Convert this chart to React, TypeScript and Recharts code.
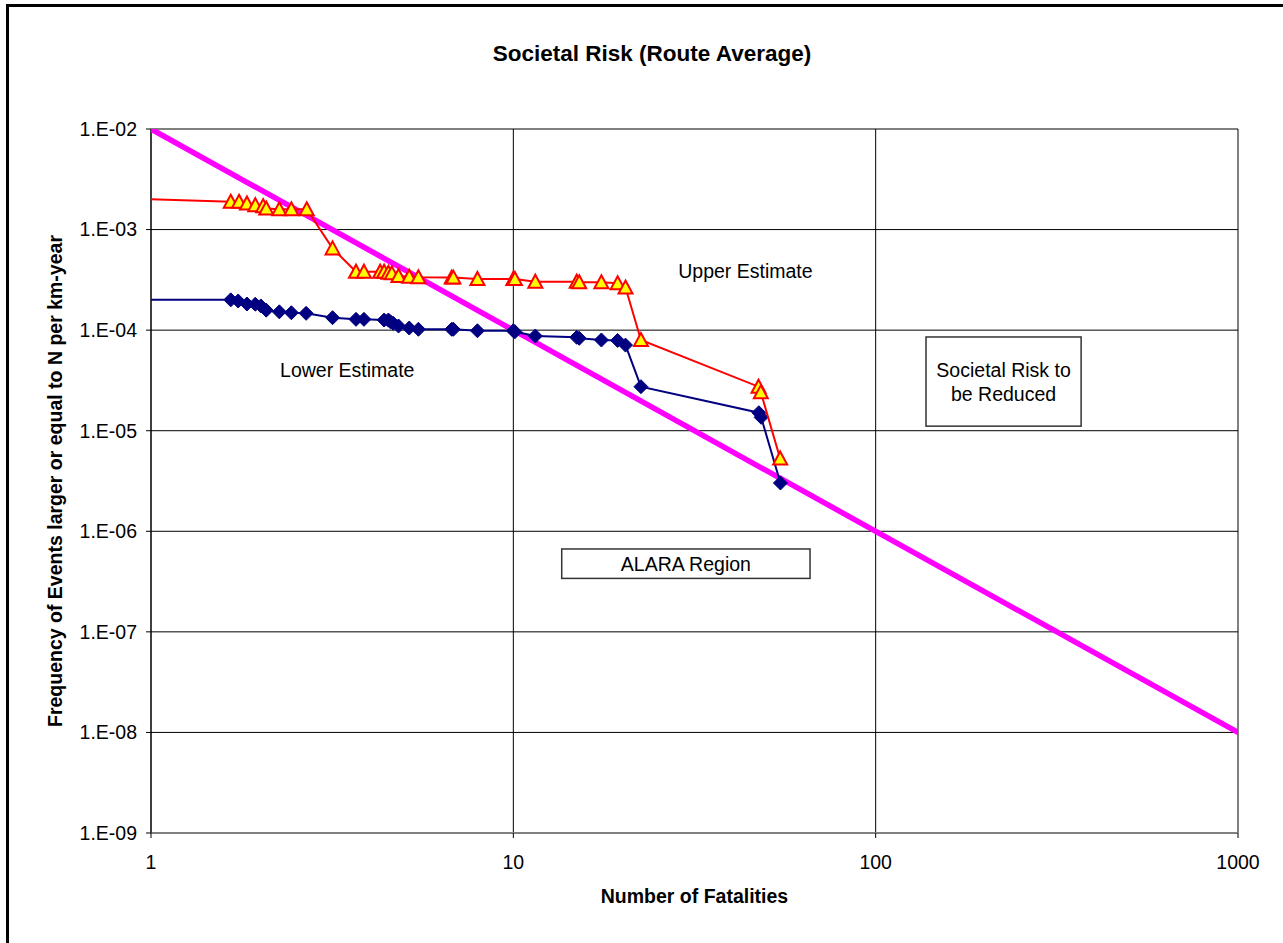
import React from 'react';
import {
  ScatterChart,
  Scatter,
  XAxis,
  YAxis,
  CartesianGrid,
  ReferenceArea,
  ReferenceDot
} from 'recharts';

// F-N curve, upper estimate (fatalities, frequency per km-year)
const upperN = [
  1, 1.66, 1.75, 1.84, 1.94, 2.04, 2.08, 2.26, 2.44, 2.69, 3.17, 3.68, 3.87, 4.29, 4.4, 4.52, 4.62,
  4.82, 5.16, 5.47, 6.76, 6.83, 7.96, 10.0, 10.1, 11.5, 14.96, 15.2, 17.5, 19.4, 20.4, 22.5, 47.5,
  48.2, 54.5
];
const upperFreq = [
  2.0e-3, 1.89e-3, 1.89e-3, 1.82e-3, 1.75e-3, 1.71e-3, 1.62e-3, 1.59e-3, 1.59e-3, 1.59e-3, 6.5e-4,
  3.81e-4, 3.81e-4, 3.81e-4, 3.81e-4, 3.72e-4, 3.67e-4, 3.45e-4, 3.4e-4, 3.35e-4, 3.33e-4, 3.33e-4,
  3.23e-4, 3.23e-4, 3.23e-4, 3.03e-4, 3.03e-4, 2.99e-4, 2.99e-4, 2.92e-4, 2.65e-4, 7.98e-5, 2.74e-5,
  2.41e-5, 5.3e-6
];

// F-N curve, lower estimate
const lowerN = [
  1, 1.66, 1.74, 1.84, 1.94, 2.01, 2.08, 2.26, 2.44, 2.68, 3.17, 3.68, 3.87, 4.4, 4.52, 4.58, 4.66,
  4.82, 5.16, 5.47, 6.76, 6.83, 7.96, 10.0, 10.1, 11.5, 14.96, 15.2, 17.5, 19.4, 20.4, 22.5, 47.6,
  48.3, 54.6
];
const lowerFreq = [
  2.0e-4, 2.0e-4, 1.95e-4, 1.82e-4, 1.81e-4, 1.74e-4, 1.58e-4, 1.52e-4, 1.49e-4, 1.47e-4, 1.33e-4,
  1.28e-4, 1.28e-4, 1.26e-4, 1.26e-4, 1.21e-4, 1.17e-4, 1.1e-4, 1.05e-4, 1.02e-4, 1.02e-4, 1.02e-4,
  9.86e-5, 9.86e-5, 9.64e-5, 8.74e-5, 8.49e-5, 8.3e-5, 7.98e-5, 7.9e-5, 7.1e-5, 2.74e-5, 1.51e-5,
  1.36e-5, 3.02e-6
];

// acceptability criterion: 1E-02 at N=1 falling to 1E-08 at N=1000
const criterionN = [1, 1000];
const criterionFreq = [1e-2, 1e-8];

const xTicks = [1, 10, 100, 1000];
const yTicks = [1e-9, 1e-8, 1e-7, 1e-6, 1e-5, 1e-4, 1e-3, 1e-2];

const toPoints = (ns: number[], fs: number[]) => ns.map((n, i) => ({ n, f: fs[i] }));
const upperData = toPoints(upperN, upperFreq);
const lowerData = toPoints(lowerN, lowerFreq);
const criterionData = toPoints(criterionN, criterionFreq);

const FONT = '"Liberation Sans", Arial, sans-serif';

const formatExp = (v: number) => {
  const exp = Math.round(Math.log10(v));
  return `1.E-${String(-exp).padStart(2, '0')}`;
};

// the N=1 start points carry no marker
const Triangle = (props: any) => {
  const { cx, cy, payload } = props;
  if (payload.n <= 1) return <g />;
  const w = 7;
  const h = 12;
  return (
    <polygon
      points={`${cx},${cy - h / 2 - 1} ${cx + w},${cy + h / 2} ${cx - w},${cy + h / 2}`}
      fill="#FFFF00"
      stroke="#FF0000"
      strokeWidth={2}
      strokeLinejoin="miter"
    />
  );
};

const Diamond = (props: any) => {
  const { cx, cy, payload } = props;
  if (payload.n <= 1) return <g />;
  const r = 7;
  return (
    <polygon
      points={`${cx},${cy - r} ${cx + r},${cy} ${cx},${cy + r} ${cx - r},${cy}`}
      fill="#000080"
      stroke="#000080"
      strokeWidth={1}
    />
  );
};

const NoMarker = () => <g />;

// framed text box anchored by its data extent
const NoteBox = (props: any) => {
  const { x, y, width, height, lines } = props;
  const lineH = 24;
  const top = y + height / 2 - ((lines.length - 1) * lineH) / 2;
  return (
    <g>
      <rect x={x} y={y} width={width} height={height} fill="#fff" stroke="#333" strokeWidth={1.5} />
      {lines.map((t: string, i: number) => (
        <text
          key={i}
          x={x + width / 2}
          y={top + i * lineH}
          dy="0.36em"
          textAnchor="middle"
          fontFamily={FONT}
          fontSize={19.5}
          fill="#000"
        >
          {t}
        </text>
      ))}
    </g>
  );
};

const noteStyle = { fontFamily: FONT, fontSize: 19.5, fill: '#000' };

export default function App() {
  return (
    <div
      style={{
        position: 'absolute',
        left: 0,
        top: 0,
        width: 1283,
        height: 943,
        overflow: 'hidden',
        background: '#fff'
      }}
    >
      {/* chart frame, only its left and top edges fall inside the page */}
      <div
        style={{
          position: 'absolute',
          left: 6,
          top: 4,
          width: 1600,
          height: 1200,
          borderLeft: '3px solid #000',
          borderTop: '3px solid #000'
        }}
      />
      <div
        style={{
          position: 'absolute',
          left: 0,
          top: 43,
          width: 1304,
          textAlign: 'center',
          fontFamily: FONT,
          fontWeight: 'bold',
          fontSize: 22.5,
          lineHeight: '22.5px',
          color: '#000'
        }}
      >
        Societal Risk (Route Average)
      </div>
      <div style={{ position: 'absolute', left: 0, top: 0 }}>
        <ScatterChart width={1283} height={943} margin={{ top: 129, right: 45, bottom: 38, left: 0 }}>
          <CartesianGrid stroke="#000" strokeWidth={1} />
          <XAxis
            type="number"
            dataKey="n"
            scale="log"
            domain={[1, 1000]}
            ticks={xTicks}
            allowDataOverflow
            height={72}
            axisLine={{ stroke: '#808080', strokeWidth: 2 }}
            tickLine={{ stroke: '#000' }}
            tickSize={5}
            tickMargin={17}
            tick={{ fontFamily: FONT, fontSize: 19.5, fill: '#000' }}
            label={{
              value: 'Number of Fatalities',
              position: 'insideBottom',
              offset: 2,
              style: { fontFamily: FONT, fontSize: 19.5, fontWeight: 'bold', fill: '#000' }
            }}
          />
          <YAxis
            type="number"
            dataKey="f"
            scale="log"
            domain={[1e-9, 1e-2]}
            ticks={yTicks}
            allowDataOverflow
            width={151}
            tickFormatter={formatExp}
            axisLine={{ stroke: '#000' }}
            tickLine={{ stroke: '#000' }}
            tickSize={5}
            tickMargin={9}
            tick={{ fontFamily: FONT, fontSize: 19.5, fill: '#000' }}
            label={{
              value: 'Frequency of Events larger or equal to N per km-year',
              angle: -90,
              position: 'insideLeft',
              offset: 55,
              style: {
                fontFamily: FONT,
                fontSize: 19.5,
                fontWeight: 'bold',
                fill: '#000',
                textAnchor: 'middle'
              }
            }}
          />

          <ReferenceArea
            x1={137.7}
            x2={369}
            y1={1.11e-5}
            y2={8.55e-5}
            shape={<NoteBox lines={['Societal Risk to', 'be Reduced']} />}
          />
          <ReferenceArea
            x1={13.6}
            x2={65.9}
            y1={3.4e-7}
            y2={6.67e-7}
            shape={<NoteBox lines={['ALARA Region']} />}
          />
          <ReferenceDot
            x={43.7}
            y={3.9e-4}
            r={0}
            fill="none"
            stroke="none"
            label={{ value: 'Upper Estimate', position: 'center', style: noteStyle }}
          />
          <ReferenceDot
            x={3.48}
            y={4.02e-5}
            r={0}
            fill="none"
            stroke="none"
            label={{ value: 'Lower Estimate', position: 'center', style: noteStyle }}
          />

          <Scatter
            data={criterionData}
            fill="#FF00FF"
            line={{ stroke: '#FF00FF', strokeWidth: 5.5, strokeLinecap: 'round' }}
            shape={<NoMarker />}
            legendType="none"
            isAnimationActive={false}
          />
          <Scatter
            data={lowerData}
            fill="#000080"
            line={{ stroke: '#000080', strokeWidth: 2 }}
            shape={<Diamond />}
            isAnimationActive={false}
          />
          <Scatter
            data={upperData}
            fill="#FF0000"
            line={{ stroke: '#FF0000', strokeWidth: 2 }}
            shape={<Triangle />}
            isAnimationActive={false}
          />
        </ScatterChart>
      </div>
    </div>
  );
}
